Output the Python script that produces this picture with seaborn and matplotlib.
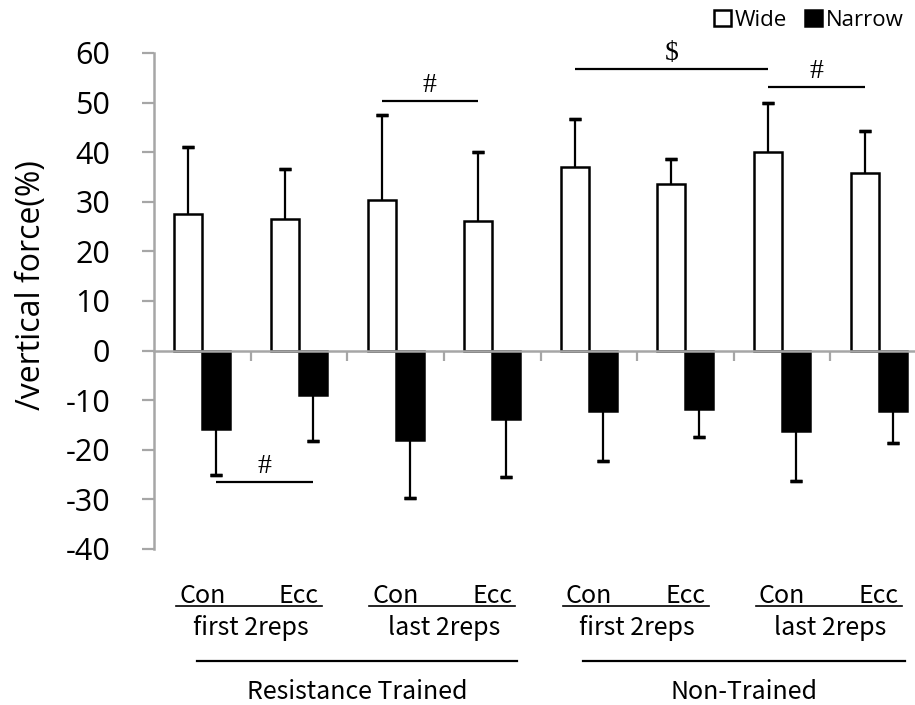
import numpy as np
import pandas as pd
import matplotlib
matplotlib.use("Agg")
import matplotlib.pyplot as plt
import matplotlib.transforms as mtransforms
from matplotlib.patches import Patch
import seaborn as sns

# ---- data ----
conditions = ["Con", "Ecc", "Con", "Ecc", "Con", "Ecc", "Con", "Ecc"]
phases = ["first 2reps", "last 2reps", "first 2reps", "last 2reps"]
groups = ["Resistance Trained", "Non-Trained"]
grips = ["Wide", "Narrow"]

wide_mean = [27.6, 26.5, 30.3, 26.2, 37.0, 33.5, 40.1, 35.9]
wide_sd = [13.4, 10.1, 17.2, 13.8, 9.6, 5.1, 9.8, 8.3]
narrow_mean = [-15.9, -9.0, -18.1, -13.8, -12.2, -11.7, -16.3, -12.2]
narrow_sd = [9.1, 9.2, 11.7, 11.6, 10.1, 5.7, 10.0, 6.5]

# significance marks: (grip, from bar, to bar, line height, symbol)
sig_marks = [
    ("Wide", 2, 3, 50.3, "#"),
    ("Wide", 4, 6, 56.8, "$"),
    ("Wide", 6, 7, 53.1, "#"),
    ("Narrow", 0, 1, -26.4, "#"),
]

yticks = list(range(-40, 61, 10))

# ---- long-form table for seaborn ----
slots = [f"c{i}" for i in range(len(conditions))]
df = pd.DataFrame({
    "slot": slots * 2,
    "grip": ["Wide"] * len(slots) + ["Narrow"] * len(slots),
    "value": wide_mean + narrow_mean,
})

plt.rcParams["font.family"] = ["Open Sans", "DejaVu Sans"]
gothic = ["Noto Sans CJK JP", "DejaVu Sans"]
serif = ["Liberation Serif", "DejaVu Serif"]
grey = "#a6a6a6"

fig = plt.figure(figsize=(9.15, 7.05), dpi=100)
ax = fig.add_axes([154 / 915, 1 - 549 / 705, 773 / 915, 496 / 705])

sns.barplot(
    data=df, x="slot", y="value", hue="grip", hue_order=grips,
    palette={"Wide": "white", "Narrow": "black"},
    edgecolor="black", linewidth=1.8, width=0.58, gap=0,
    errorbar=None, legend=False, ax=ax, zorder=3,
)

# one-sided SD error bars (away from zero), from the bars seaborn drew
centers = {}
for grip, cont, sd in zip(grips, ax.containers, [wide_sd, narrow_sd]):
    xs = np.array([b.get_x() + b.get_width() / 2 for b in cont])
    hs = np.array([b.get_height() for b in cont])
    centers[grip] = xs
    ends = hs + np.sign(hs) * np.array(sd)
    ax.vlines(xs, hs, ends, color="black", lw=1.6, zorder=2)
    ax.errorbar(xs, ends, yerr=0, fmt="none", ecolor="black",
                elinewidth=0, capsize=4.5, capthick=2.4, zorder=4)

for grip, i, j, y, sym in sig_marks:
    x0, x1 = centers[grip][i], centers[grip][j]
    ax.plot([x0, x1], [y, y], color="black", lw=1.6, zorder=5,
            solid_capstyle="butt")
    ax.text((x0 + x1) / 2, y + 0.6, sym, ha="center", va="bottom",
            fontsize=20, family=serif)

# axes styling (Excel look)
ax.set_ylim(-40, 60)
ax.set_xlim(-0.5, 7.5)
ax.set_yticks(yticks)
ax.set_yticklabels([str(t) for t in yticks], fontsize=22)
ax.set_xticks(np.arange(0.5, 8, 1))
ax.set_xticklabels([])
ax.set_xlabel("")
ax.set_ylabel("")
for s in ["top", "right"]:
    ax.spines[s].set_visible(False)
ax.spines["left"].set_color(grey)
ax.spines["left"].set_linewidth(1.8)
ax.spines["bottom"].set_position(("data", 0))
ax.spines["bottom"].set_color(grey)
ax.spines["bottom"].set_linewidth(1.8)
ax.spines["bottom"].set_zorder(6)
ax.tick_params(axis="y", length=8.5, width=1.6, color=grey, pad=23)
ax.tick_params(axis="x", length=7, width=1.6, color=grey, direction="out")

fig.text(32 / 915, 1 - 285 / 705, "/vertical force(%)", rotation=90,
         ha="center", va="center", fontsize=23)

# category labels below the plot
trans = mtransforms.blended_transform_factory(ax.transData, fig.transFigure)
for i, cond in enumerate(conditions):
    ax.text(i, 1 - 603 / 705, cond, transform=trans, ha="center",
            va="baseline", fontsize=18, family=gothic)
for k, ph in enumerate(phases):
    a = 2 * k
    ax.plot([a - 0.27, a + 1.24], [1 - 605.5 / 705] * 2, transform=trans,
            color="black", lw=1.2, clip_on=False)
    ax.text(a + 0.5, 1 - 628 / 705, ph, transform=trans, ha="center",
            va="center", fontsize=18, family=gothic)
group_spans = [(-0.05, 3.26), (3.94, 7.27)]
for g, (x0, x1) in zip(groups, group_spans):
    ax.plot([x0, x1], [1 - 661 / 705] * 2, transform=trans, color="black",
            lw=1.6, clip_on=False)
    ax.text((x0 + x1) / 2, 1 - 692 / 705, g, transform=trans, ha="center",
            va="center", fontsize=18, family=gothic)

handles = [Patch(facecolor="white", edgecolor="black", lw=1.8),
           Patch(facecolor="black", edgecolor="black", lw=1.8)]
fig.legend(handles, grips, loc="upper right",
           bbox_to_anchor=(904 / 915, 1 - 10 / 705), ncol=2, frameon=False,
           fontsize=16, handlelength=0.75, handleheight=0.75,
           handletextpad=0.2, columnspacing=0.8, borderpad=0, borderaxespad=0)

fig.savefig("out.png", dpi=100)
plt.close(fig)
